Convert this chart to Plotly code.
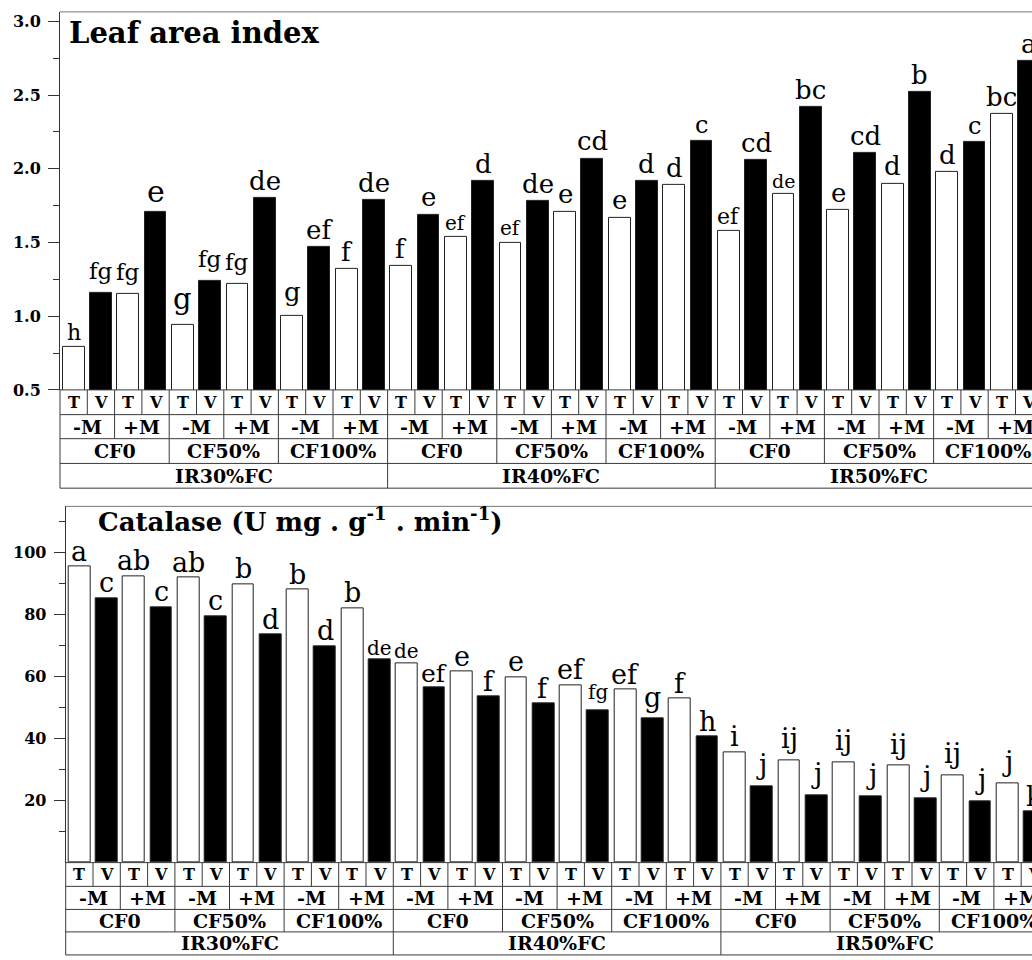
import plotly.graph_objects as go

# Factor levels (nested: irrigation > chemical fertiliser > mycorrhiza > cultivar)
ir_levels = ["IR30%FC", "IR40%FC", "IR50%FC"]
cf_levels = ["CF0", "CF50%", "CF100%"]
m_levels = ["-M", "+M"]
tv_levels = ["T", "V"]

# Leaf area index, one value per treatment combination
lai = [0.79, 1.16, 1.15, 1.71, 0.94, 1.24, 1.22, 1.80, 1.00, 1.47, 1.32, 1.79,
       1.34, 1.69, 1.54, 1.92, 1.50, 1.78, 1.71, 2.07, 1.67, 1.92, 1.89, 2.19,
       1.58, 2.06, 1.83, 2.42, 1.72, 2.11, 1.90, 2.52, 1.98, 2.18, 2.37, 2.73]
lai_letters = ["h", "fg", "fg", "e", "g", "fg", "fg", "de", "g", "ef", "f", "de",
               "f", "e", "ef", "d", "ef", "de", "e", "cd", "e", "d", "d", "c",
               "ef", "cd", "de", "bc", "e", "cd", "d", "b", "d", "c", "bc", "a"]

# Catalase activity (U mg . g-1 . min-1)
catalase = [95.4, 85.3, 92.3, 82.4, 91.8, 79.4, 89.8, 73.5, 88.0, 69.8, 82.0, 65.4,
            64.3, 56.4, 61.6, 53.5, 59.8, 51.2, 57.2, 49.1, 55.8, 46.4, 52.8, 40.6,
            35.7, 24.7, 33.0, 21.7, 32.3, 21.4, 31.2, 20.7, 28.2, 19.8, 25.7, 16.4]
catalase_letters = ["a", "c", "ab", "c", "ab", "c", "b", "d", "b", "d", "b", "de",
                    "de", "ef", "e", "f", "e", "f", "ef", "fg", "ef", "g", "f", "h",
                    "i", "j", "ij", "j", "ij", "j", "ij", "j", "ij", "j", "j", "k"]

# Letter font sizes (style only)
lai_letter_size = [22, 23, 23, 30, 29, 23, 23, 26, 26, 26, 26, 26,
                   26, 26, 20, 26, 20, 26, 26, 26, 26, 26, 26, 24,
                   22, 26, 19, 26, 26, 26, 26, 26, 26, 24, 26, 26]
catalase_letter_size = [27, 27, 27, 27, 27, 27, 27, 27, 27, 27, 27, 20,
                        20, 25, 27, 27, 27, 27, 27, 20, 27, 27, 27, 27,
                        27, 27, 27, 27, 27, 27, 27, 27, 27, 27, 27, 27]

W, H = 1032, 960
CELL = 27.3
SERIF = "DejaVu Serif"
LINE = "#3a3a3a"
DESCENDERS = set("gjpqy")

n = len(ir_levels) * len(cf_levels) * len(m_levels) * len(tv_levels)
xs = list(range(n))
tv_seq = [tv_levels[i % 2] for i in xs]
m_seq = [m_levels[(i // 2) % 2] for i in xs]
cf_seq = [cf_levels[(i // 4) % 3] for i in xs]
ir_seq = [ir_levels[i // 12] for i in xs]
bar_colors = ["white" if t == "T" else "black" for t in tv_seq]


def fx(px):
    return px / W


def fy(px):
    return 1 - px / H


panels = [
    dict(name="", values=lai, letters=lai_letters, sizes=lai_letter_size,
         left=60, top=12, rows=[394, 419, 443.3, 468.3, 493.3],
         yrange=[0.5, 0.5 + 382 / 149], yshift=0, desc_shift=7,
         title="Leaf area index", title_x=67, title_y=33, title_size=29),
    dict(name="2", values=catalase, letters=catalase_letters, sizes=catalase_letter_size,
         left=65.7, top=511.7, rows=[871.7, 895.7, 919, 941.7, 965],
         yrange=[0, 360 / 3.135], yshift=-2, desc_shift=6,
         title="Catalase (U mg . g<sup>-1</sup> . min<sup>-1</sup>)",
         title_x=96, title_y=525, title_size=26),
]

fig = go.Figure()
shapes = []
annotations = []

for p in panels:
    xname = "x" + p["name"]
    yname = "y" + p["name"]
    xmax = -0.5 + (W - p["left"]) / CELL

    fig.add_trace(go.Bar(
        x=xs, y=p["values"], width=0.8, xaxis=xname, yaxis=yname,
        marker=dict(color=bar_colors, line=dict(color="#222", width=1)),
        showlegend=False, hoverinfo="skip",
    ))

    def place_x(xc):
        # keep the anchor inside the axis range, push the text with a pixel shift
        lim = xmax - 0.02
        if xc > lim:
            return lim, (xc - lim) * CELL
        return xc, 0

    # significance letters above the bars
    for i, (v, letter, sz) in enumerate(zip(p["values"], p["letters"], p["sizes"])):
        x, sh = place_x(i)
        lift = p["yshift"] + (p["desc_shift"] if DESCENDERS & set(letter) else 0)
        annotations.append(dict(
            x=x, y=v, xref=xname, yref=yname, text=letter, showarrow=False,
            xanchor="center", yanchor="bottom", xshift=sh, yshift=lift,
            font=dict(family=SERIF, size=sz, color="black"),
        ))

    # top frame line
    shapes.append(dict(type="line", xref="paper", yref="paper",
                       x0=fx(p["left"]), x1=1, y0=fy(p["top"]), y1=fy(p["top"]),
                       line=dict(color="#777", width=1)))

    rows = p["rows"]
    # horizontal table lines
    for r in rows:
        shapes.append(dict(type="line", xref="paper", yref="paper",
                           x0=fx(p["left"]), x1=1, y0=fy(r), y1=fy(r),
                           line=dict(color=LINE, width=1)))
    # left edge of the table
    shapes.append(dict(type="line", xref="paper", yref="paper",
                       x0=fx(p["left"]), x1=fx(p["left"]), y0=fy(rows[0]), y1=fy(rows[-1]),
                       line=dict(color=LINE, width=1)))

    # nested header rows: cell span per level
    levels = [(1, tv_seq), (2, m_seq), (4, cf_seq), (12, ir_seq)]
    for k in range(1, n + 1):
        depth = 0
        for lvl, (span, _) in enumerate(levels):
            if k % span == 0:
                depth = lvl + 1
        shapes.append(dict(type="line", xref=xname, yref="paper",
                           x0=k - 0.5, x1=k - 0.5, y0=fy(rows[0]), y1=fy(rows[depth]),
                           line=dict(color=LINE, width=1)))

    for lvl, (span, seq) in enumerate(levels):
        fsize = 16 if lvl == 0 else 19
        for start in range(0, n, span):
            xc = start + (span - 1) / 2
            x, sh = place_x(xc)
            annotations.append(dict(
                x=x, y=fy((rows[lvl] + rows[lvl + 1]) / 2), xref=xname, yref="paper",
                text=seq[start], showarrow=False, xanchor="center", yanchor="middle",
                xshift=sh,
                font=dict(family=SERIF, size=fsize, color="black", weight="bold"),
            ))

    annotations.append(dict(
        x=fx(p["title_x"]), y=fy(p["title_y"]), xref="paper", yref="paper",
        text=p["title"], showarrow=False, xanchor="left", yanchor="middle",
        font=dict(family=SERIF, size=p["title_size"], color="black", weight="bold"),
    ))

tick_font = dict(family=SERIF, size=16, color="black", weight="bold")
common_x = dict(showticklabels=False, ticks="", showgrid=False, zeroline=False,
                showline=False, fixedrange=True)
common_y = dict(ticks="outside", ticklen=11, tickwidth=1, tickcolor="#333",
                showline=True, linecolor="#333", linewidth=1, showgrid=False,
                zeroline=False, tickfont=tick_font, ticklabelstandoff=4, fixedrange=True)

fig.update_layout(
    width=W, height=H, autosize=False,
    margin=dict(l=0, r=0, t=0, b=0),
    paper_bgcolor="white", plot_bgcolor="white",
    bargap=0,
    xaxis=dict(domain=[fx(60), 1], range=[-0.5, -0.5 + (W - 60) / CELL], anchor="y", **common_x),
    yaxis=dict(domain=[fy(394), fy(12)], range=panels[0]["yrange"], anchor="x",
               tickmode="linear", tick0=0.5, dtick=0.5, tickformat=".1f",
               minor=dict(ticks="outside", ticklen=6, tickwidth=1, tickcolor="#333",
                          tickmode="linear", tick0=0.5, dtick=0.25),
               **common_y),
    xaxis2=dict(domain=[fx(65.7), 1], range=[-0.5, -0.5 + (W - 65.7) / CELL], anchor="y2", **common_x),
    yaxis2=dict(domain=[fy(871.7), fy(511.7)], range=panels[1]["yrange"], anchor="x2",
                tickmode="array", tickvals=[20, 40, 60, 80, 100],
                minor=dict(ticks="outside", ticklen=6, tickwidth=1, tickcolor="#333",
                           tickmode="array", tickvals=[10, 30, 50, 70, 90, 110]),
                **common_y),
    shapes=shapes,
    annotations=annotations,
)

fig.write_html("out.html")
